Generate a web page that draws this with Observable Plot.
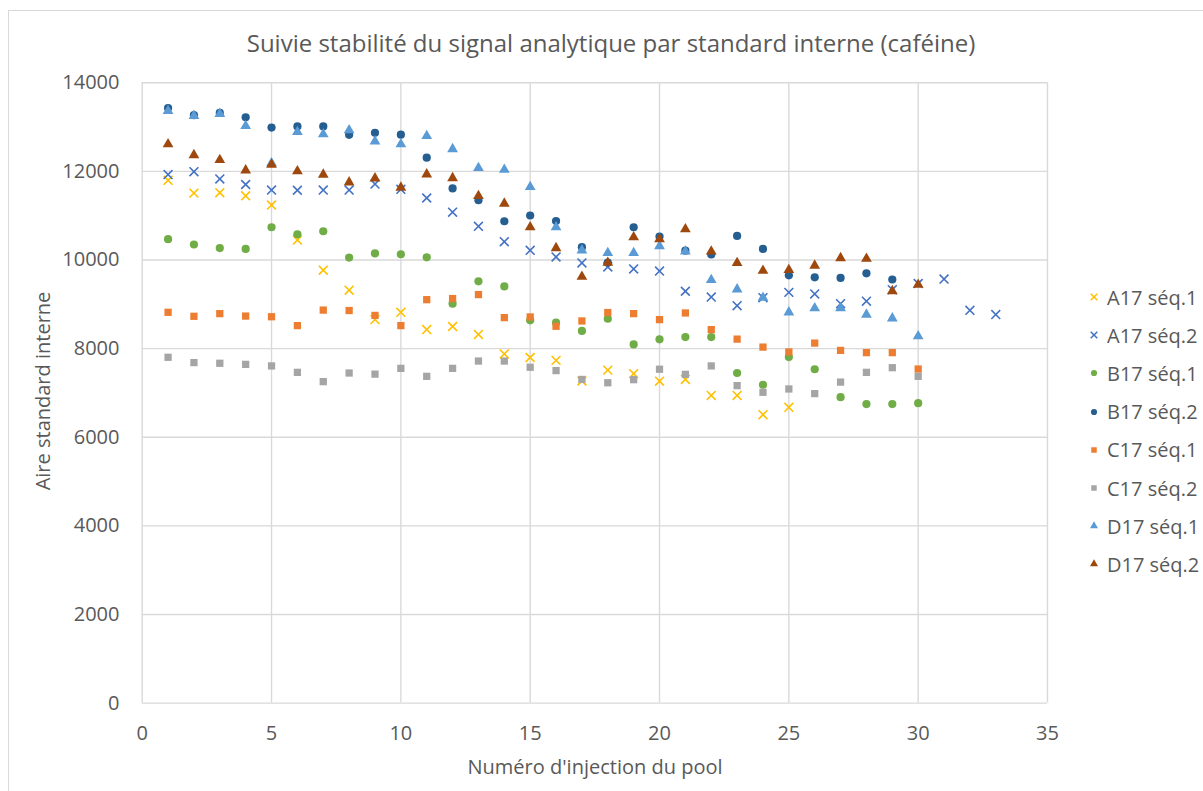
<!DOCTYPE html>
<html>
<head>
<meta charset="utf-8">
<script src="https://cdn.jsdelivr.net/npm/d3@7"></script>
<script src="https://cdn.jsdelivr.net/npm/@observablehq/plot@0.6"></script>
<style>
  html, body { margin: 0; padding: 0; background: #fff; }
  body { font-family: "Open Sans", sans-serif; color: #595959; }
  #wrap { position: relative; width: 1203px; height: 791px; overflow: hidden; background: #fff; }
  #frame { position: absolute; left: 8px; top: 10px; width: 1400px; height: 1000px; border: 1.5px solid #d9d9d9; box-sizing: border-box; }
  #chart { position: absolute; left: 0; top: 0; }
  .abs { position: absolute; white-space: nowrap; line-height: 1; }
  #title { left: 611px; top: 43px; transform: translate(-50%, -50%); font-size: 24px; }
  #xtitle { left: 595px; top: 767px; transform: translate(-50%, -50%); font-size: 20px; }
  #ytitle { left: 43px; top: 391px; transform: translate(-50%, -50%) rotate(-90deg); font-size: 20px; }
  #legend { position: absolute; left: 1086px; top: 278px; }
  .row { display: flex; align-items: center; height: 38.2px; font-size: 20px; white-space: nowrap; }
  .row svg { margin-right: 5px; }
</style>
</head>
<body>
<div id="wrap">
  <div id="frame"></div>
  <div id="chart"></div>
  <div id="title" class="abs">Suivie stabilité du signal analytique par standard interne (caféine)</div>
  <div id="xtitle" class="abs">Numéro d'injection du pool</div>
  <div id="ytitle" class="abs">Aire standard interne</div>
  <div id="legend"></div>
</div>
<script>
// ---- data (x = injection number 1, 2, 3, ...) ----
const xTicks = [0, 5, 10, 15, 20, 25, 30, 35];
const yTicks = [0, 2000, 4000, 6000, 8000, 10000, 12000, 14000];

const seriesNames = ["A17 séq.1", "A17 séq.2", "B17 séq.1", "B17 séq.2", "C17 séq.1", "C17 séq.2", "D17 séq.1", "D17 séq.2"];

const A17_seq1 = [11800, 11510, 11520, 11450, 11240, 10450, 9770, 9320, 8655, 8820, 8430, 8500, 8320, 7880, 7800, 7735, 7270, 7515, 7435, 7265, 7305, 6945, 6945, 6510, 6675];
const A17_seq2 = [11930, 11995, 11830, 11705, 11580, 11575, 11580, 11580, 11715, 11595, 11400, 11080, 10760, 10415, 10220, 10070, 9935, 9845, 9800, 9750, 9295, 9165, 8970, 9150, 9270, 9235, 9015, 9070, 9330, 9470, 9570, 8865, 8770];
const B17_seq1 = [10470, 10350, 10270, 10250, 10740, 10580, 10650, 10055, 10150, 10130, 10060, 9015, 9520, 9405, 8640, 8585, 8400, 8675, 8095, 8210, 8260, 8260, 7450, 7185, 7810, 7535, 6905, 6750, 6750, 6770];
const B17_seq2 = [13430, 13270, 13320, 13220, 12990, 13015, 13015, 12825, 12870, 12830, 12310, 11615, 11350, 10875, 11005, 10880, 10290, 9940, 10740, 10530, 10210, 10125, 10545, 10250, 9655, 9610, 9595, 9700, 9560];
const C17_seq1 = [8820, 8730, 8790, 8735, 8720, 8520, 8870, 8860, 8750, 8520, 9105, 9130, 9220, 8700, 8715, 8505, 8625, 8815, 8790, 8655, 8805, 8430, 8215, 8035, 7925, 8125, 7960, 7910, 7910, 7540];
const C17_seq2 = [7805, 7685, 7670, 7645, 7610, 7465, 7255, 7450, 7425, 7555, 7375, 7555, 7720, 7720, 7580, 7505, 7305, 7230, 7300, 7535, 7420, 7610, 7165, 7015, 7090, 6985, 7245, 7465, 7570, 7375];
const D17_seq1 = [13365, 13255, 13300, 13025, 12185, 12890, 12840, 12930, 12680, 12615, 12800, 12505, 12080, 12040, 11650, 10740, 10220, 10160, 10160, 10315, 10195, 9550, 9340, 9150, 8820, 8915, 8915, 8770, 8685, 8280];
const D17_seq2 = [12615, 12370, 12260, 12025, 12155, 12005, 11930, 11755, 11845, 11635, 11935, 11850, 11445, 11275, 10740, 10270, 9625, 9940, 10515, 10470, 10695, 10195, 9935, 9760, 9775, 9875, 10045, 10030, 9300, 9445];

const seriesValues = [A17_seq1, A17_seq2, B17_seq1, B17_seq2, C17_seq1, C17_seq2, D17_seq1, D17_seq2];
const seriesColors = ["#FFC000", "#4472C4", "#70AD47", "#255E91", "#ED7D31", "#A5A5A5", "#5B9BD5", "#9E480E"];
const seriesSymbols = ["times", "times", "circle", "circle", "square", "square", "triangle", "triangle"];
const seriesR = [4.1, 4.1, 4.1, 4.1, 4.1, 4.1, 4.0, 4.0];

// ---- build rows ----
const rows = [];
seriesNames.forEach((name, s) => {
  seriesValues[s].forEach((v, i) => rows.push({series: name, s, x: i + 1, y: v}));
});

const dotMarks = seriesNames.map((name, s) => {
  const data = rows.filter(d => d.s === s);
  const isStroke = seriesSymbols[s] === "times";
  return Plot.dot(data, {
    x: "x", y: "y",
    symbol: seriesSymbols[s],
    r: seriesR[s],
    ...(isStroke ? {stroke: seriesColors[s], strokeWidth: 1.6, fill: "none"} : {fill: seriesColors[s], stroke: "none"})
  });
});

const chart = Plot.plot({
  width: 1203,
  height: 791,
  marginLeft: 141.7,
  marginRight: 156,
  marginTop: 82.3,
  marginBottom: 88.4,
  style: {fontFamily: "Open Sans, sans-serif", fontSize: "20px", color: "#595959", background: "transparent", overflow: "visible"},
  x: {domain: [0, 35], ticks: xTicks, tickSize: 0, tickPadding: 23, label: null},
  y: {domain: [0, 14000], ticks: yTicks, tickSize: 0, tickPadding: 22.7, tickFormat: d => String(d), label: null},
  marks: [
    Plot.gridX(xTicks, {stroke: "#d9d9d9", strokeOpacity: 1, strokeWidth: 1.4}),
    Plot.gridY(yTicks, {stroke: "#d9d9d9", strokeOpacity: 1, strokeWidth: 1.4}),
    Plot.axisX(xTicks, {tickSize: 0, tickPadding: 23, fontSize: 20, fill: "#595959", label: null}),
    Plot.axisY(yTicks, {tickSize: 0, tickPadding: 22.7, fontSize: 20, fill: "#595959", tickFormat: d => String(d), label: null}),
    ...dotMarks
  ]
});
document.getElementById("chart").appendChild(chart);

// ---- legend ----
const legend = document.getElementById("legend");
const symMap = {times: d3.symbolTimes, circle: d3.symbolCircle, square: d3.symbolSquare, triangle: d3.symbolTriangle};
seriesNames.forEach((name, s) => {
  const row = document.createElement("div");
  row.className = "row";
  const svg = d3.create("svg").attr("width", 16).attr("height", 16);
  const sizes = {times: 30, circle: 30, square: 30, triangle: 28};
  const path = d3.symbol(symMap[seriesSymbols[s]], sizes[seriesSymbols[s]])();
  const p = svg.append("path").attr("d", path).attr("transform", "translate(8,8)");
  if (seriesSymbols[s] === "times") p.attr("fill", "none").attr("stroke", seriesColors[s]).attr("stroke-width", 1.5);
  else p.attr("fill", seriesColors[s]);
  row.appendChild(svg.node());
  const t = document.createElement("span");
  t.textContent = name;
  row.appendChild(t);
  legend.appendChild(row);
});
</script>
</body>
</html>
